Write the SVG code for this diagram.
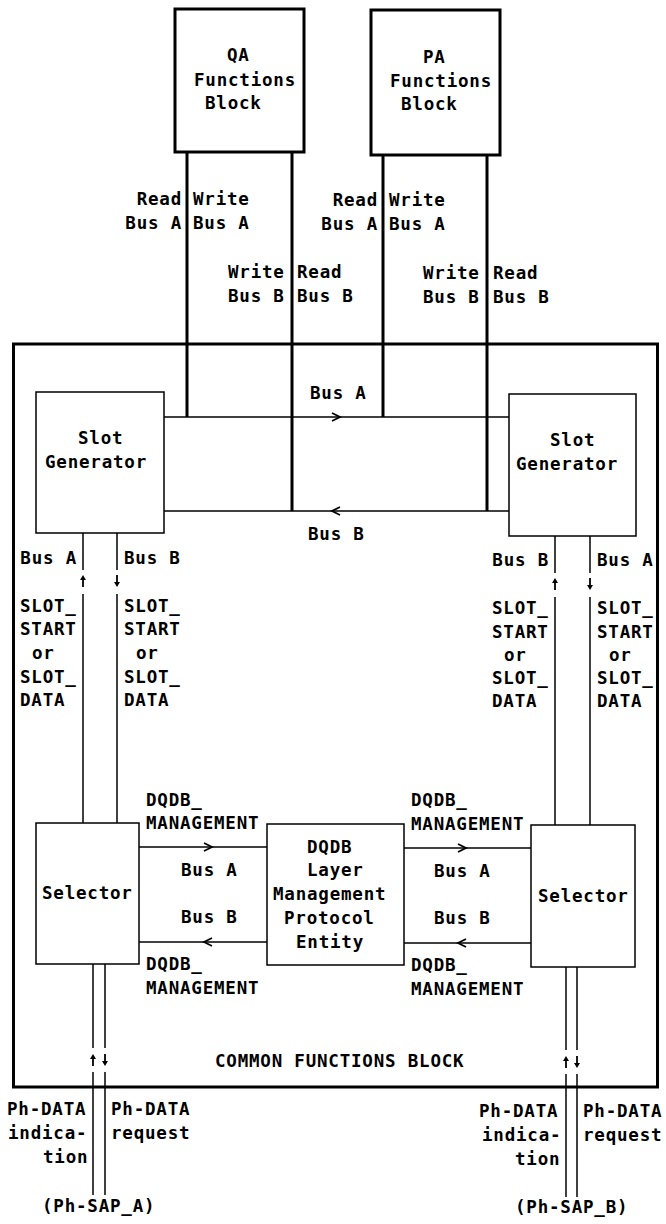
<svg xmlns="http://www.w3.org/2000/svg" width="666" height="1224" viewBox="0 0 666 1224">
<style>
text{font-family:"DejaVu Sans Mono","Liberation Mono",monospace;font-size:17.5px;font-weight:bold;letter-spacing:0.8px;fill:#000}
.r{text-anchor:end}
.box{fill:#fff;stroke:#000;stroke-width:1.5}
.tbox{fill:#fff;stroke:#000;stroke-width:3}
.thick{stroke:#000;stroke-width:3;fill:none}
.thin{stroke:#000;stroke-width:1.5;fill:none}
.chev{stroke:#000;stroke-width:1.8;fill:none}
.shaft{stroke:#000;stroke-width:1.8;fill:none}
.head{fill:#000;stroke:none}
</style>
<defs>
<g id="up"><line class="shaft" x1="0" y1="12" x2="0" y2="3"/><path class="head" d="M-3,5 L0,0 L3,5 Z"/></g>
<g id="down"><line class="shaft" x1="0" y1="0" x2="0" y2="9"/><path class="head" d="M-3,7 L0,12 L3,7 Z"/></g>
</defs>
<rect width="666" height="1224" fill="#fff"/>

<g id="common-functions-block">
<rect x="13.5" y="344" width="644" height="743" fill="none" stroke="#000" stroke-width="3"/>
<text x="215" y="1067">COMMON FUNCTIONS BLOCK</text>
</g>

<g id="connectors">
<line class="thick" x1="187" y1="152" x2="187" y2="417"/>
<line class="thick" x1="292" y1="152" x2="292" y2="511"/>
<line class="thick" x1="383" y1="155" x2="383" y2="417"/>
<line class="thick" x1="487" y1="155" x2="487" y2="511"/>
<line class="thin" x1="164" y1="417" x2="509" y2="417"/>
<line class="thin" x1="164" y1="511" x2="509" y2="511"/>
<path class="chev" d="M332,413 L340,417 L332,421"/>
<path class="chev" d="M340,507 L332,511 L340,515"/>
<line class="thin" x1="83" y1="533" x2="83" y2="570"/>
<line class="thin" x1="83" y1="594" x2="83" y2="823"/>
<line class="thin" x1="117" y1="533" x2="117" y2="570"/>
<line class="thin" x1="117" y1="594" x2="117" y2="823"/>
<line class="thin" x1="555" y1="536" x2="555" y2="573"/>
<line class="thin" x1="555" y1="597" x2="555" y2="825"/>
<line class="thin" x1="590" y1="536" x2="590" y2="573"/>
<line class="thin" x1="590" y1="597" x2="590" y2="825"/>
<line class="thin" x1="139" y1="847" x2="267" y2="847"/>
<line class="thin" x1="139" y1="942" x2="267" y2="942"/>
<path class="chev" d="M204,843 L212,847 L204,851"/>
<path class="chev" d="M212,938 L204,942 L212,946"/>
<line class="thin" x1="404" y1="848" x2="531" y2="848"/>
<line class="thin" x1="404" y1="943" x2="531" y2="943"/>
<path class="chev" d="M458,844 L466,848 L458,852"/>
<path class="chev" d="M466,939 L458,943 L466,947"/>
<line class="thin" x1="93" y1="964" x2="93" y2="1048"/>
<line class="thin" x1="93" y1="1072" x2="93" y2="1195"/>
<line class="thin" x1="105" y1="964" x2="105" y2="1048"/>
<line class="thin" x1="105" y1="1072" x2="105" y2="1195"/>
<line class="thin" x1="566" y1="967" x2="566" y2="1050"/>
<line class="thin" x1="566" y1="1074" x2="566" y2="1197"/>
<line class="thin" x1="577" y1="967" x2="577" y2="1050"/>
<line class="thin" x1="577" y1="1074" x2="577" y2="1197"/>
<use href="#up" x="83" y="575"/>
<use href="#down" x="117" y="575"/>
<use href="#up" x="555" y="578"/>
<use href="#down" x="590" y="578"/>
<use href="#up" x="93" y="1054"/>
<use href="#down" x="105" y="1054"/>
<use href="#up" x="566" y="1056"/>
<use href="#down" x="577" y="1056"/>
</g>

<g id="connector-labels">
<text class="r" x="182" y="205">Read</text>
<text class="r" x="182" y="229">Bus A</text>
<text x="193" y="205">Write</text>
<text x="193" y="229">Bus A</text>
<text x="228" y="278">Write</text>
<text x="228" y="302">Bus B</text>
<text x="297" y="278">Read</text>
<text x="297" y="302">Bus B</text>
<text class="r" x="378" y="206">Read</text>
<text class="r" x="378" y="230">Bus A</text>
<text x="389" y="206">Write</text>
<text x="389" y="230">Bus A</text>
<text x="423" y="279">Write</text>
<text x="423" y="303">Bus B</text>
<text x="493" y="279">Read</text>
<text x="493" y="303">Bus B</text>
<text x="310" y="399">Bus A</text>
<text x="308" y="540">Bus B</text>
<text class="r" x="77" y="564">Bus A</text>
<text x="124" y="564">Bus B</text>
<text x="20" y="612">SLOT_</text>
<text x="20" y="635">START</text>
<text x="32" y="659">or</text>
<text x="20" y="683">SLOT_</text>
<text x="20" y="706">DATA</text>
<text x="124" y="612">SLOT_</text>
<text x="124" y="635">START</text>
<text x="136" y="659">or</text>
<text x="124" y="683">SLOT_</text>
<text x="124" y="706">DATA</text>
<text class="r" x="549" y="566">Bus B</text>
<text x="597" y="566">Bus A</text>
<text x="492" y="614">SLOT_</text>
<text x="492" y="638">START</text>
<text x="504" y="661">or</text>
<text x="492" y="684">SLOT_</text>
<text x="492" y="707">DATA</text>
<text x="597" y="614">SLOT_</text>
<text x="597" y="638">START</text>
<text x="609" y="661">or</text>
<text x="597" y="684">SLOT_</text>
<text x="597" y="707">DATA</text>
<text x="146" y="806">DQDB_</text>
<text x="146" y="829">MANAGEMENT</text>
<text x="181" y="876">Bus A</text>
<text x="181" y="923">Bus B</text>
<text x="146" y="970">DQDB_</text>
<text x="146" y="994">MANAGEMENT</text>
<text x="411" y="806">DQDB_</text>
<text x="411" y="830">MANAGEMENT</text>
<text x="434" y="877">Bus A</text>
<text x="434" y="924">Bus B</text>
<text x="411" y="971">DQDB_</text>
<text x="411" y="995">MANAGEMENT</text>
<text x="7" y="1115">Ph-DATA</text>
<text x="8" y="1139">indica-</text>
<text x="43" y="1163">tion</text>
<text x="111" y="1115">Ph-DATA</text>
<text x="111" y="1139">request</text>
<text x="42" y="1212">(Ph-SAP_A)</text>
<text x="479" y="1117">Ph-DATA</text>
<text x="482" y="1141">indica-</text>
<text x="515" y="1165">tion</text>
<text x="583" y="1117">Ph-DATA</text>
<text x="583" y="1141">request</text>
<text x="515" y="1213">(Ph-SAP_B)</text>
</g>

<g id="qa-functions-block">
<rect class="tbox" x="175" y="9" width="129" height="143"/>
<text x="227" y="61">QA</text>
<text x="194" y="86">Functions</text>
<text x="205" y="109">Block</text>
</g>

<g id="pa-functions-block">
<rect class="tbox" x="371" y="10" width="129" height="145"/>
<text x="423" y="63">PA</text>
<text x="390" y="87">Functions</text>
<text x="401" y="110">Block</text>
</g>

<g id="slot-generator-left">
<rect class="box" x="36" y="392" width="128" height="141"/>
<text x="78" y="444">Slot</text>
<text x="45" y="468">Generator</text>
</g>

<g id="slot-generator-right">
<rect class="box" x="509" y="394" width="127" height="142"/>
<text x="550" y="446">Slot</text>
<text x="516" y="470">Generator</text>
</g>

<g id="selector-left">
<rect class="box" x="36" y="823" width="103" height="141"/>
<text x="42" y="899">Selector</text>
</g>

<g id="selector-right">
<rect class="box" x="531" y="825" width="104" height="142"/>
<text x="538" y="902">Selector</text>
</g>

<g id="dqdb-layer-management-protocol-entity">
<rect class="box" x="267" y="824" width="137" height="141"/>
<text x="307" y="853">DQDB</text>
<text x="307" y="876">Layer</text>
<text x="273" y="900">Management</text>
<text x="284" y="924">Protocol</text>
<text x="296" y="948">Entity</text>
</g>
</svg>
